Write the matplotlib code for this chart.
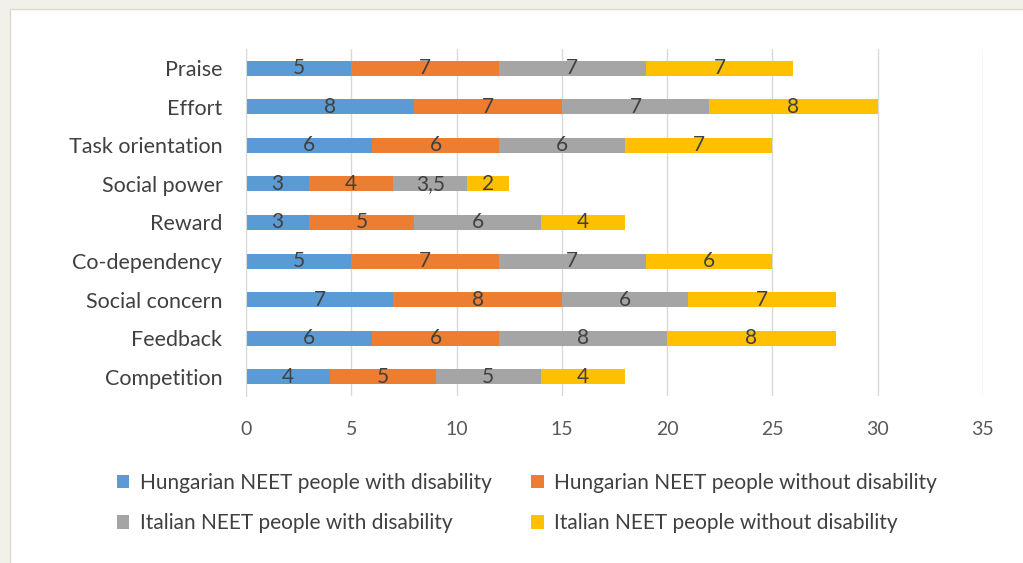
import matplotlib.pyplot as plt
from matplotlib.patches import Rectangle
import numpy as np

plt.rcParams['font.family'] = ['Lato', 'DejaVu Sans']

# Motivation factors, listed top to bottom
categories = ['Praise', 'Effort', 'Task orientation', 'Social power', 'Reward',
              'Co-dependency', 'Social concern', 'Feedback', 'Competition']

hun_with = [5, 8, 6, 3, 3, 5, 7, 6, 4]
hun_without = [7, 7, 6, 4, 5, 7, 8, 6, 5]
ita_with = [7, 7, 6, 3.5, 6, 7, 6, 8, 5]
ita_without = [7, 8, 7, 2, 4, 6, 7, 8, 4]

series = [
    ('Hungarian NEET people with disability', hun_with, '#5b9bd5'),
    ('Hungarian NEET people without disability', hun_without, '#ed7d31'),
    ('Italian NEET people with disability', ita_with, '#a5a5a5'),
    ('Italian NEET people without disability', ita_without, '#ffc000'),
]

TXT = '#404040'

fig = plt.figure(figsize=(10.23, 5.63), dpi=100)
fig.patch.set_facecolor('#f2f1e9')
# white chart panel behind everything
fig.patches.append(Rectangle((10 / 1023, -0.01), 1.0, 1.01 - 9 / 563,
                             transform=fig.transFigure, facecolor='white',
                             edgecolor='#dcdad0', lw=1.0, zorder=-5))

ax = fig.add_axes([246 / 1023, 1 - 396 / 563, (983 - 246) / 1023, (396 - 49) / 563])
ax.set_facecolor('none')

y = np.arange(len(categories))
left = np.zeros(len(categories))
handles = {}
for name, vals, col in series:
    vals = np.array(vals, dtype=float)
    bars = ax.barh(y, vals, left=left, height=0.39, color=col, label=name, zorder=2)
    handles[name] = bars
    for yi, l, v in zip(y, left, vals):
        txt = f'{v:g}'.replace('.', ',')
        ax.text(l + v / 2, yi, txt, ha='center', va='center',
                fontsize=15, color=TXT, zorder=3)
    left += vals

ax.set_xlim(0, 35)
ax.set_ylim(len(categories) - 0.5, -0.5)
ax.set_xticks(range(0, 36, 5))
ax.set_yticks(y)
ax.set_yticklabels(categories)
ax.tick_params(axis='y', length=0, pad=17, labelsize=15.5, labelcolor=TXT)
ax.tick_params(axis='x', length=0, pad=18, labelsize=14, labelcolor='#595959')
ax.grid(axis='x', color='#d9d9d9', lw=1.0, zorder=0)
for s in ['top', 'right', 'bottom']:
    ax.spines[s].set_visible(False)
ax.spines['left'].set_color('#d9d9d9')

order = [series[0][0], series[2][0], series[1][0], series[3][0]]
leg = fig.legend([handles[n] for n in order], order, ncol=2,
                 loc='center left', bbox_to_anchor=(98 / 1023, 1 - 503 / 563),
                 frameon=False, fontsize=15, handlelength=0.6, handleheight=0.6,
                 handletextpad=0.5, columnspacing=1.9, labelspacing=1.0)
for t in leg.get_texts():
    t.set_color(TXT)

fig.savefig('out.png', dpi=100, facecolor=fig.get_facecolor())
